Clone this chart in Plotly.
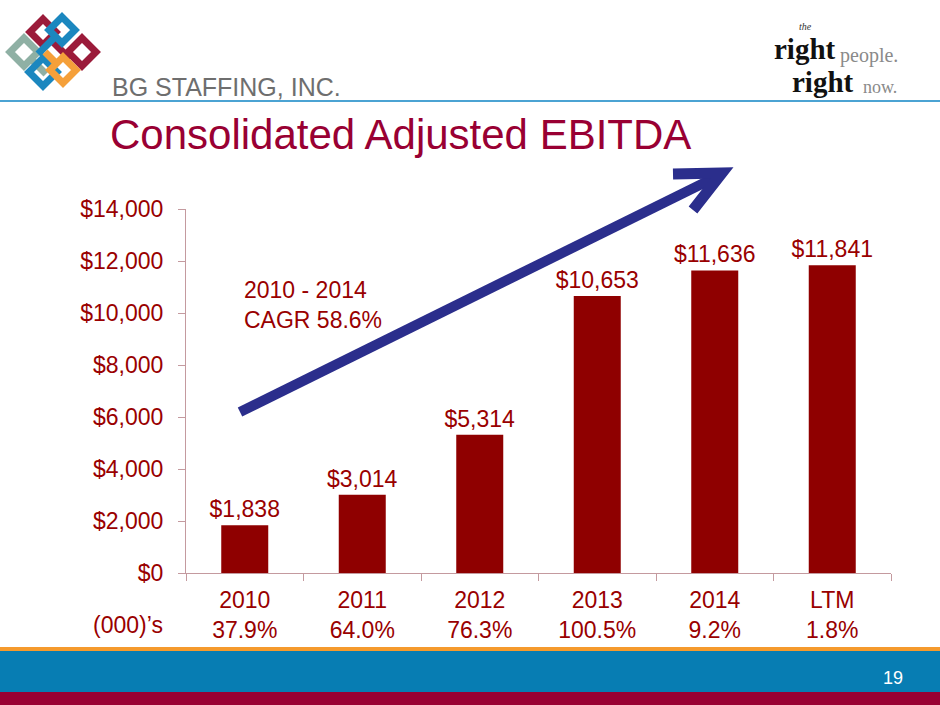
import plotly.graph_objects as go

# ---------------------------------------------------------------------------
# Data
# ---------------------------------------------------------------------------
periods = ["2010", "2011", "2012", "2013", "2014", "LTM"]
ebitda = [1838, 3014, 5314, 10653, 11636, 11841]
growth = ["37.9%", "64.0%", "76.3%", "100.5%", "9.2%", "1.8%"]
y_ticks = [0, 2000, 4000, 6000, 8000, 10000, 12000, 14000]
cagr_text = "2010 - 2014<br>CAGR 58.6%"

FONT = "Liberation Sans"
SERIF = "Liberation Serif"
BAR_COLOR = "#8F0000"
LABEL_COLOR = "#990000"
TITLE_COLOR = "#990033"
AXIS_COLOR = "#C49A9F"
ARROW_COLOR = "#2B2E8C"

W, H = 940, 705
L, R, T, B = 186, 891, 209, 573   # plot area in pixels


# pixel -> paper helpers for decorations
def px(x):
    return (x - L) / (R - L)


def py(y):
    return (B - y) / (B - T)


fig = go.Figure()

fig.add_trace(go.Bar(
    x=periods,
    y=ebitda,
    marker=dict(color=BAR_COLOR, line=dict(width=0)),
    text=[f"${v:,}" for v in ebitda],
    textposition="outside",
    constraintext="none",
    cliponaxis=False,
    textfont=dict(family=FONT, size=23, color=LABEL_COLOR),
    hoverinfo="skip",
))

shapes = []
annotations = []

# header rule + footer bands
shapes.append(dict(type="line", xref="paper", yref="paper",
                   x0=px(0), x1=px(W), y0=py(101), y1=py(101),
                   line=dict(color="#4BA3D3", width=2)))
shapes.append(dict(type="rect", xref="paper", yref="paper",
                   x0=px(0), x1=px(W), y0=py(651), y1=py(647),
                   fillcolor="#F59A2D", line=dict(width=0)))
shapes.append(dict(type="rect", xref="paper", yref="paper",
                   x0=px(0), x1=px(W), y0=py(692), y1=py(651),
                   fillcolor="#077DB3", line=dict(width=0)))
shapes.append(dict(type="rect", xref="paper", yref="paper",
                   x0=px(0), x1=px(W), y0=py(H), y1=py(692),
                   fillcolor="#990033", line=dict(width=0)))


# knot logo, drawn as interlaced diamond rings and bands
def diamond(cx, cy, h, color, w=7):
    path = (f"M {px(cx)},{py(cy - h)} L {px(cx + h)},{py(cy)} "
            f"L {px(cx)},{py(cy + h)} L {px(cx - h)},{py(cy)} Z")
    return dict(type="path", xref="paper", yref="paper", path=path,
                line=dict(color=color, width=w), fillcolor="rgba(0,0,0,0)")


def band(x0, y0, x1, y1, color, w=7):
    return dict(type="line", xref="paper", yref="paper",
                x0=px(x0), y0=py(y0), x1=px(x1), y1=py(y1),
                line=dict(color=color, width=w))


GRAY, MAROON, BLUE, ORANGE = "#8FB0A4", "#9B1B3A", "#1B87BF", "#F5A03A"
shapes += [
    diamond(24, 52, 14, GRAY),
    band(30, 58, 46, 74, GRAY),
    diamond(43, 32, 13, MAROON),
    band(50, 39, 70, 59, MAROON),
    diamond(82, 52, 14, MAROON),
    diamond(62, 30, 13, BLUE),
    band(55, 37, 38, 54, BLUE),
    diamond(43, 72, 14, BLUE),
    diamond(63, 70, 13, ORANGE),
    band(56, 63, 45, 52, ORANGE),
]

# growth arrow
shapes.append(dict(type="line", xref="paper", yref="paper",
                   x0=px(240), y0=py(412), x1=px(720), y1=py(175),
                   line=dict(color=ARROW_COLOR, width=10)))
shapes.append(dict(type="path", xref="paper", yref="paper",
                   path=f"M {px(673)},{py(174)} L {px(722)},{py(173)} L {px(693)},{py(210)}",
                   line=dict(color=ARROW_COLOR, width=11), fillcolor="rgba(0,0,0,0)"))


def note(x, y, text, size, color, family=FONT, xanchor="left", **kw):
    annotations.append(dict(xref="paper", yref="paper", x=px(x), y=py(y),
                            text=text, showarrow=False, xanchor=xanchor,
                            yanchor="middle",
                            font=dict(family=family, size=size, color=color), **kw))


note(110, 87, "BG STAFFING, INC.", 25, "#6E6E6E")
note(108, 134, "Consolidated Adjusted EBITDA", 42, TITLE_COLOR)
note(242, 305, cagr_text, 23, LABEL_COLOR, align="left")
note(128, 625, "(000)\u2019s", 23, LABEL_COLOR, xanchor="center")
note(905, 678, "19", 18, "white", xanchor="right")

# "the right people. right now." mark
note(797, 26, "<i>the</i>", 10, "#333333", family=SERIF)
note(772, 49, "<b>right</b>", 29, "#111111", family=SERIF)
note(838, 56, "people.", 20, "#8A8A8A", family=SERIF)
note(790, 82, "<b>right</b>", 29, "#111111", family=SERIF)
note(861, 87, "now.", 18, "#8A8A8A", family=SERIF)

fig.update_layout(
    width=W,
    height=H,
    margin=dict(l=L, r=W - R, t=T, b=H - B),
    paper_bgcolor="white",
    plot_bgcolor="white",
    showlegend=False,
    bargap=0.6,
    font=dict(family=FONT, color=LABEL_COLOR),
    xaxis=dict(
        tickmode="array",
        tickvals=periods,
        ticktext=[f"{p}<br>{g}" for p, g in zip(periods, growth)],
        tickfont=dict(size=23, color=LABEL_COLOR),
        showline=True, linecolor=AXIS_COLOR, linewidth=1,
        ticks="outside", tickson="boundaries", ticklen=7, tickcolor=AXIS_COLOR,
        ticklabelstandoff=6,
        showgrid=False,
        fixedrange=True,
    ),
    yaxis=dict(
        range=[0, 14000],
        tickvals=y_ticks,
        ticktext=[f"${v:,}" for v in y_ticks],
        tickfont=dict(size=23, color=LABEL_COLOR),
        showline=True, linecolor=AXIS_COLOR, linewidth=1,
        ticks="outside", ticklen=7, tickcolor=AXIS_COLOR,
        ticklabelstandoff=10,
        showgrid=False, zeroline=False,
        fixedrange=True,
    ),
    shapes=shapes,
    annotations=annotations,
)

# drop the browser's default page margin so the slide fills the window
fig.write_html(
    "out.html",
    config={"displayModeBar": False},
    post_script="document.body.style.margin = '0';",
)
